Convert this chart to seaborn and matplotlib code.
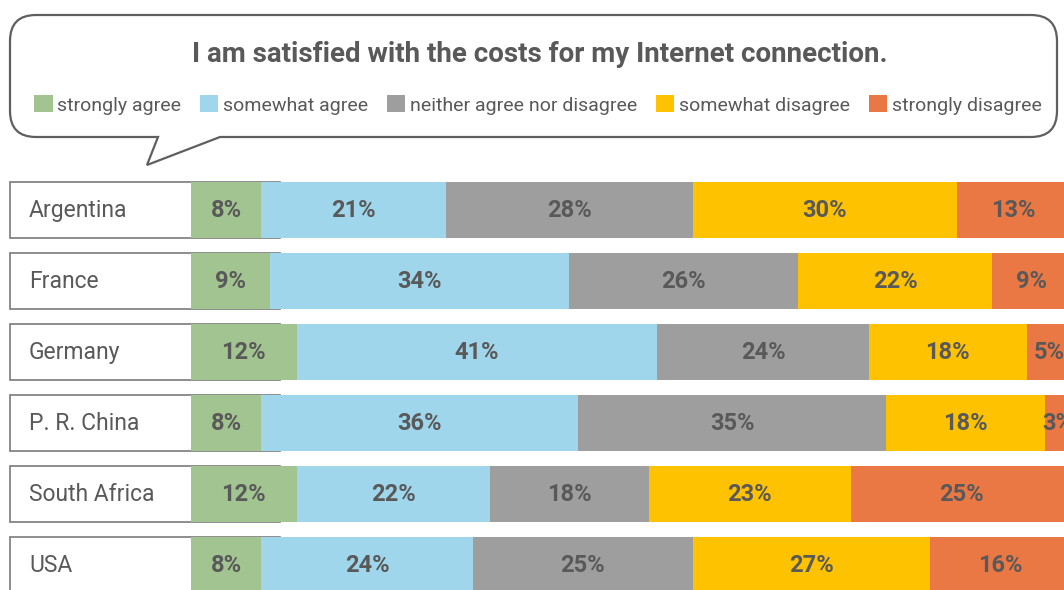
import pandas as pd
import matplotlib
matplotlib.use("Agg")
import matplotlib.pyplot as plt
from matplotlib.patches import Rectangle, PathPatch
from matplotlib.path import Path
import seaborn as sns

# survey data (percent of respondents)
countries = ["Argentina", "France", "Germany", "P. R. China", "South Africa", "USA"]
answers = ["strongly agree", "somewhat agree", "neither agree nor disagree",
           "somewhat disagree", "strongly disagree"]
strongly_agree = [8, 9, 12, 8, 12, 8]
somewhat_agree = [21, 34, 41, 36, 22, 24]
neither = [28, 26, 24, 35, 18, 25]
somewhat_disagree = [30, 22, 18, 18, 23, 27]
strongly_disagree = [13, 9, 5, 3, 25, 16]
colors = ["#A2C491", "#A0D6EC", "#9E9E9E", "#FFC200", "#EA7844"]
title = "I am satisfied with the costs for my Internet connection."

W, H = 1064, 590
PX = 8.8          # pixels per percent
X0 = 191          # pixel where bars start
ROW0, ROWSTEP = 210, 71
TXT = "#595959"

sns.set_theme(style="white")
plt.rcParams["font.family"] = ["Roboto", "DejaVu Sans"]

df = pd.DataFrame({
    "country": countries,
    answers[0]: strongly_agree,
    answers[1]: somewhat_agree,
    answers[2]: neither,
    answers[3]: somewhat_disagree,
    answers[4]: strongly_disagree,
})
cum = df[answers].cumsum(axis=1)
cum["country"] = df["country"]

fig = plt.figure(figsize=(W / 100, H / 100), dpi=100)
ax = fig.add_axes([0, 0, 1, 1])

# stacked bars: draw the longest cumulative bar first
for ans, col in reversed(list(zip(answers, colors))):
    sns.barplot(data=cum, x=ans, y="country", color=col, width=0.775, orient="h",
                saturation=1, errorbar=None, linewidth=0, label=ans, zorder=2, ax=ax)

# value labels
for i in range(len(countries)):
    left = 0
    for ans in answers:
        v = df.loc[i, ans]
        ax.text(left + v / 2, i, f"{v}%", ha="center", va="center", fontsize=17,
                fontweight="bold", color=TXT, zorder=3)
        left += v

# country label boxes
for i, c in enumerate(countries):
    ax.add_patch(Rectangle(((10 - X0) / PX, i - 0.4), 270 / PX, 0.8, facecolor="white",
                           edgecolor="#7a7a7a", lw=1.2, zorder=1))
    ax.text((29 - X0) / PX, i, c, ha="left", va="center", fontsize=16.5, color=TXT, zorder=3)

ax.set_xlim(-X0 / PX, (W - X0) / PX)
ax.set_ylim((H - ROW0) / ROWSTEP, -ROW0 / ROWSTEP)
ax.axis("off")

# speech bubble
def fp(x, y):
    return (x / W, 1 - y / H)

L, R, T, B, r = 10, 1057, 15, 137, 26
verts = [fp(L + r, T), fp(R - r, T), fp(R, T), fp(R, T + r), fp(R, B - r), fp(R, B),
         fp(R - r, B), fp(220, B), fp(147, 165), fp(158, B), fp(L + r, B), fp(L, B),
         fp(L, B - r), fp(L, T + r), fp(L, T), fp(L + r, T), fp(L + r, T)]
codes = [Path.MOVETO, Path.LINETO, Path.CURVE3, Path.CURVE3, Path.LINETO, Path.CURVE3,
         Path.CURVE3, Path.LINETO, Path.LINETO, Path.LINETO, Path.LINETO, Path.CURVE3,
         Path.CURVE3, Path.LINETO, Path.CURVE3, Path.CURVE3, Path.CLOSEPOLY]
fig.patches.append(PathPatch(Path(verts, codes), facecolor="white", edgecolor="#5f5f5f",
                             lw=1.6, transform=fig.transFigure, zorder=-1))

fig.text(540 / W, 1 - 55 / H, title, ha="center", va="center", fontsize=20,
         fontweight="bold", color=TXT)

handles, labels = ax.get_legend_handles_labels()
ax.legend(handles[::-1], labels[::-1], ncol=5, loc="center",
          bbox_to_anchor=(538 / W, 1 - 105 / H), bbox_transform=fig.transFigure,
          frameon=False, fontsize=14, handlelength=0.95, handleheight=0.95,
          handletextpad=0.25, columnspacing=0.95, labelcolor=TXT, borderpad=0)

fig.savefig("out.png", dpi=100)
